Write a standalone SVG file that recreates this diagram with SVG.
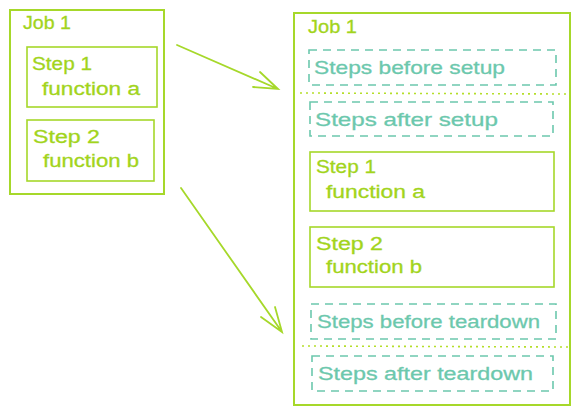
<svg xmlns="http://www.w3.org/2000/svg" width="579" height="415" viewBox="0 0 579 415">
<style>
.job{fill:none;stroke:#a6d82a;stroke-width:2}
.step{fill:none;stroke:#a6d82a;stroke-width:1.6}
.dash{fill:none;stroke:#6cc8ad;stroke-width:1.6;stroke-dasharray:8 6}
.dot{fill:none;stroke:#b5de2a;stroke-width:1.6;stroke-dasharray:2 4}
.lt{font-family:"Liberation Sans",Arial,sans-serif;font-size:18px;fill:#a2d41c;stroke:#a2d41c;stroke-width:0.3}
.tt{font-family:"Liberation Sans",Arial,sans-serif;font-size:19px;fill:#6cc8ad;stroke:#6cc8ad;stroke-width:0.3}
.arr{fill:none;stroke:#a6d82a;stroke-width:1.8;stroke-linecap:round}
</style>
<rect width="579" height="415" fill="#fff"/>
<g id="left-job">
<rect class="job" x="10" y="10" width="154" height="184"/>
<text class="lt" x="23" y="29" textLength="48" lengthAdjust="spacingAndGlyphs">Job 1</text>
</g>
<g id="left-step1">
<rect class="step" x="27" y="47" width="130" height="60"/>
<text class="lt" x="32" y="70" textLength="60" lengthAdjust="spacingAndGlyphs">Step 1</text>
<text class="lt" x="42" y="95" textLength="98" lengthAdjust="spacingAndGlyphs">function a</text>
</g>
<g id="left-step2">
<rect class="step" x="27" y="120" width="127" height="61"/>
<text class="lt" x="33" y="143" textLength="67" lengthAdjust="spacingAndGlyphs">Step 2</text>
<text class="lt" x="43" y="167" textLength="96" lengthAdjust="spacingAndGlyphs">function b</text>
</g>
<g id="right-job">
<rect class="job" x="294" y="13" width="276" height="392"/>
<text class="lt" x="308" y="33" textLength="49" lengthAdjust="spacingAndGlyphs">Job 1</text>
</g>
<g id="before-setup">
<rect class="dash" x="309" y="50" width="247" height="35"/>
<text class="tt" x="314" y="74" textLength="191" lengthAdjust="spacingAndGlyphs">Steps before setup</text>
</g>
<g id="after-setup">
<rect class="dash" x="310" y="102" width="243" height="34"/>
<text class="tt" x="315" y="126" textLength="183" lengthAdjust="spacingAndGlyphs">Steps after setup</text>
</g>
<g id="right-step1">
<rect class="step" x="310" y="152" width="244" height="59"/>
<text class="lt" x="316" y="173" textLength="60" lengthAdjust="spacingAndGlyphs">Step 1</text>
<text class="lt" x="326" y="198" textLength="99" lengthAdjust="spacingAndGlyphs">function a</text>
</g>
<g id="right-step2">
<rect class="step" x="310" y="227" width="244" height="60"/>
<text class="lt" x="316" y="250" textLength="67" lengthAdjust="spacingAndGlyphs">Step 2</text>
<text class="lt" x="326" y="273" textLength="96" lengthAdjust="spacingAndGlyphs">function b</text>
</g>
<g id="before-teardown">
<rect class="dash" x="311" y="304" width="245" height="35"/>
<text class="tt" x="317" y="328" textLength="223" lengthAdjust="spacingAndGlyphs">Steps before teardown</text>
</g>
<g id="after-teardown">
<rect class="dash" x="312" y="356" width="241" height="35"/>
<text class="tt" x="318" y="380" textLength="215" lengthAdjust="spacingAndGlyphs">Steps after teardown</text>
</g>
<g id="separators">
<line class="dot" x1="300" y1="93" x2="567" y2="94"/>
<line class="dot" x1="302" y1="346" x2="569" y2="347"/>
</g>
<g id="connectors">
<path class="arr" d="M177 45 L278 89 M260 72 L278 89 L253 87"/>
<path class="arr" d="M181 188 L282 332 M275 307 L282 332 L261 317"/>
</g>
</svg>
